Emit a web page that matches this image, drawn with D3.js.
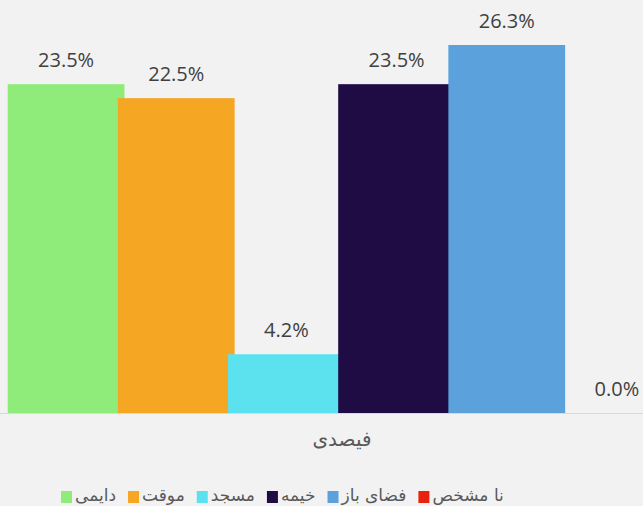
<!DOCTYPE html>
<html>
<head>
<meta charset="utf-8">
<script src="https://cdn.jsdelivr.net/npm/d3@7"></script>
<style>
    body { margin: 0; background: #f2f2f2; }
    svg { display: block; }
</style>
</head>
<body>
<script>
// chart data
var categories = ["دایمی", "موقت", "مسجد", "خیمه", "فضای باز", "نا مشخص"];
var values = [23.5, 22.5, 4.2, 23.5, 26.3, 0.0];
var colors = ["#8fec7b", "#f5a623", "#5ce1ee", "#200c44", "#5ba1db", "#e8220e"];
var axisTitle = "فیصدی";

var width = 643,
    height = 506,
    baseline = 413;

var svg = d3.select("body").append("svg")
    .attr("width", width)
    .attr("height", height);

// one band per series, bars overlap a little like the original
var xScale = d3.scaleBand().domain(categories).range([11, 672]);
var yScale = d3.scaleLinear().domain([0, 26.3]).range([baseline, 45]);
var barWidth = xScale.step() * 1.06;

svg.selectAll("rect.bar")
    .data(values)
    .enter()
    .append("rect")
    .attr("class", "bar")
    .attr("x", function(d, i) {
        return xScale(categories[i]) + xScale.bandwidth() / 2 - barWidth / 2;
    })
    .attr("y", function(d) { return yScale(d); })
    .attr("width", barWidth)
    .attr("height", function(d) { return baseline - yScale(d); })
    .attr("fill", function(d, i) { return colors[i]; });

// baseline
svg.append("line")
    .attr("x1", 0)
    .attr("x2", width)
    .attr("y1", baseline + 0.5)
    .attr("y2", baseline + 0.5)
    .attr("stroke", "#d9d9d9")
    .attr("stroke-width", 1);

// value labels
svg.selectAll("text.label")
    .data(values)
    .enter()
    .append("text")
    .attr("class", "label")
    .text(function(d) { return d.toFixed(1) + "%"; })
    .attr("x", function(d, i) {
        return xScale(categories[i]) + xScale.bandwidth() / 2;
    })
    .attr("y", function(d) { return yScale(d) - 17; })
    .attr("text-anchor", "middle")
    .attr("font-family", "'Open Sans', 'DejaVu Sans', sans-serif")
    .attr("font-size", "20px")
    .attr("fill", "#404040");

// category axis title
svg.append("text")
    .attr("x", 342)
    .attr("y", 446)
    .attr("text-anchor", "middle")
    .attr("font-family", "'DejaVu Sans', sans-serif")
    .attr("font-size", "20px")
    .attr("fill", "#595959")
    .text(axisTitle);

// legend: square then text, laid out left to right
var legend = svg.append("g");
var lx = 61;
categories.forEach(function(c, i) {
    legend.append("rect")
        .attr("x", lx)
        .attr("y", 491)
        .attr("width", 11)
        .attr("height", 12)
        .attr("fill", colors[i]);
    var t = legend.append("text")
        .attr("x", lx + 14)
        .attr("y", 501)
        .attr("font-family", "'DejaVu Sans', sans-serif")
        .attr("font-size", "17px")
        .attr("fill", "#595959")
        .text(c);
    lx += 14 + t.node().getComputedTextLength() + 12;
});
</script>
</body>
</html>
